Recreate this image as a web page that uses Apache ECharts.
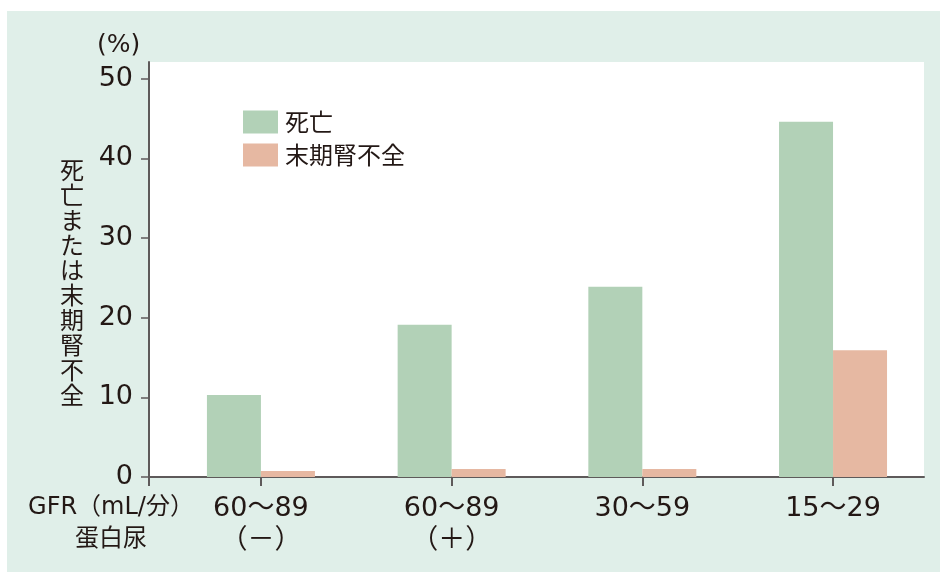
<!DOCTYPE html>
<html>
<head>
<meta charset="utf-8">
<script src="https://cdn.jsdelivr.net/npm/echarts@6/dist/echarts.min.js"></script>
<style>
  html, body { margin: 0; padding: 0; background: #ffffff; }
  #chart { width: 940px; height: 572px; }
</style>
</head>
<body>
<div id="chart"></div>
<script>
// GFR categories (with proteinuria status) and outcome rates in %
const categories = ['60～89\n（－）', '60～89\n（＋）', '30～59', '15～29'];
const categoryPositions = [1, 2, 3, 4];
const deathRates = [10.3, 19.1, 23.9, 44.6];
const esrdRates = [0.75, 1.0, 1.0, 15.9];
const seriesNames = ['死亡', '末期腎不全'];
const yTicks = [0, 10, 20, 30, 40, 50];

const FONT = '"Noto Sans CJK JP", "Noto Sans", sans-serif';
const NUM_FONT = '"DejaVu Sans", "Noto Sans CJK JP", sans-serif';
const INK = '#231815';
const AXIS = '#5e5a5a';

const chart = echarts.init(document.getElementById('chart'), null, { renderer: 'canvas' });

chart.setOption({
  animation: false,
  backgroundColor: '#ffffff',
  textStyle: { fontFamily: FONT, color: INK },
  graphic: [
    { type: 'rect', z: -10, shape: { x: 7, y: 11, width: 933, height: 561 }, style: { fill: '#e0efe9' } },
    { type: 'text', left: 97, top: 33, style: { text: '(%)', font: '25px ' + NUM_FONT, fill: INK } },
    {
      type: 'text', left: 60, top: 157,
      style: {
        text: '死亡または末期腎不全'.split('').join('\n'),
        font: '24px ' + FONT, fill: INK, lineHeight: 25, align: 'center'
      }
    },
    {
      type: 'text', x: 111, y: 492,
      style: {
        text: 'GFR（mL/分）\n蛋白尿', font: '24px ' + NUM_FONT, fill: INK,
        lineHeight: 32, align: 'center', verticalAlign: 'top'
      }
    }
  ],
  legend: {
    orient: 'vertical', left: 243, top: 110, padding: 0,
    itemWidth: 35, itemHeight: 23, itemGap: 9,
    icon: 'rect',
    textStyle: { fontSize: 24, color: INK, fontFamily: FONT, padding: [0, 0, 0, 2] },
    data: seriesNames
  },
  grid: {
    left: 149, top: 62, right: 16, bottom: 95,
    show: true, backgroundColor: '#ffffff', borderWidth: 0
  },
  xAxis: {
    type: 'value', min: 0.413, max: 4.477,
    splitLine: { show: false },
    axisLine: { show: true, lineStyle: { color: AXIS, width: 2 } },
    axisTick: {
      show: true, length: 9, lineStyle: { color: AXIS, width: 2 },
      customValues: [0.413].concat(categoryPositions)
    },
    axisLabel: {
      customValues: categoryPositions, margin: 16,
      fontSize: 27, lineHeight: 32, color: INK, fontFamily: NUM_FONT,
      formatter: v => categories[categoryPositions.indexOf(Math.round(v))] || ''
    }
  },
  yAxis: {
    type: 'value', min: 0, max: 52.1,
    splitLine: { show: false },
    axisLine: { show: true, lineStyle: { color: AXIS, width: 2 } },
    axisTick: { show: true, length: 8, lineStyle: { color: AXIS, width: 1.5 }, customValues: yTicks },
    axisLabel: { customValues: yTicks, margin: 16, fontSize: 27, color: INK, fontFamily: NUM_FONT }
  },
  series: [
    {
      name: seriesNames[0], type: 'bar', barWidth: 54, barGap: '0%',
      itemStyle: { color: '#b2d1b7' },
      data: categoryPositions.map((x, i) => [x, deathRates[i]])
    },
    {
      name: seriesNames[1], type: 'bar', barWidth: 54, barGap: '0%',
      itemStyle: { color: '#e6b8a2' },
      data: categoryPositions.map((x, i) => [x, esrdRates[i]])
    }
  ]
});
</script>
</body>
</html>
